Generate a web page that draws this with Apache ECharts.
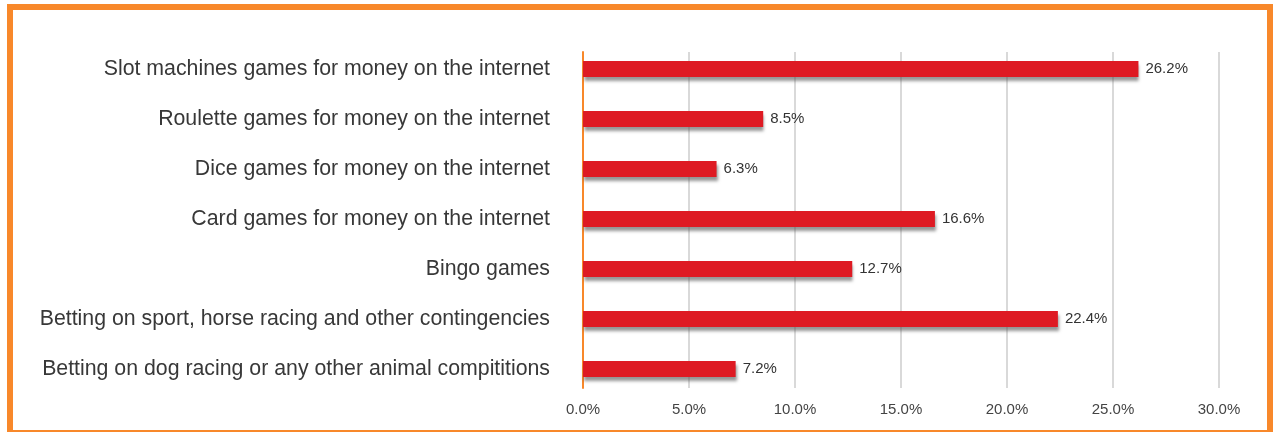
<!DOCTYPE html>
<html>
<head>
<meta charset="utf-8">
<script src="https://cdn.jsdelivr.net/npm/echarts@6/dist/echarts.min.js"></script>
<style>
  html, body { margin: 0; padding: 0; background: #fff; }
  #wrap { position: relative; width: 1274px; height: 432px; overflow: hidden; }
  #frame { position: absolute; left: 7px; top: 4px; width: 1266px; height: 432px;
           box-sizing: border-box; border: 6px solid #F8882A; pointer-events: none; }
  #chart { position: absolute; left: 0; top: 0; width: 1274px; height: 432px; }
</style>
</head>
<body>
<div id="wrap">
  <div id="chart"></div>
  <div id="frame"></div>
</div>
<script>
const categories = [
  "Slot machines games for money on the internet",
  "Roulette games for money on the internet",
  "Dice games for money on the internet",
  "Card games for money on the internet",
  "Bingo games",
  "Betting on sport, horse racing and other contingencies",
  "Betting on dog racing or any other animal compititions"
];
const values = [26.2, 8.5, 6.3, 16.6, 12.7, 22.4, 7.2];

const FONT = "Liberation Sans, Arial, sans-serif";
const pct = (v) => v.toFixed(1) + "%";

const chart = echarts.init(document.getElementById("chart"), null, { renderer: "canvas" });

chart.setOption({
  backgroundColor: "#fff",
  animation: false,
  // grid 0 holds the bars, grid 1 holds the gridlines / axis (slightly shorter, like Excel)
  grid: [
    { left: 583, right: 55, top: 44, height: 350 },
    { left: 583, right: 55, top: 52, height: 336 }
  ],
  xAxis: [
    {
      gridIndex: 0, type: "value", min: 0, max: 30, interval: 5,
      axisLine: { show: false }, axisTick: { show: false },
      splitLine: { show: false }, axisLabel: { show: false }
    },
    {
      gridIndex: 1, type: "value", min: 0, max: 30, interval: 5,
      axisLine: { show: false }, axisTick: { show: false },
      splitLine: { lineStyle: { color: "#d9d9d9", width: 2 } },
      axisLabel: { color: "#444", fontSize: 15, fontFamily: FONT, margin: 14, formatter: pct }
    }
  ],
  yAxis: [
    {
      gridIndex: 0, type: "category", inverse: true, data: categories,
      axisLine: { show: false }, axisTick: { show: false },
      axisLabel: { color: "#383838", fontSize: 21.3, fontFamily: FONT, margin: 33 }
    },
    {
      gridIndex: 1, type: "category", inverse: true, data: categories,
      axisLine: { show: true, lineStyle: { color: "#F8882A", width: 2 } },
      axisTick: { show: false }, axisLabel: { show: false }
    }
  ],
  series: [{
    type: "bar",
    xAxisIndex: 0,
    yAxisIndex: 0,
    data: values,
    barWidth: 16,
    itemStyle: {
      color: "#DE1A23",
      shadowColor: "rgba(80,80,80,0.6)",
      shadowOffsetX: 1,
      shadowOffsetY: 4,
      shadowBlur: 3
    },
    label: {
      show: true,
      position: "right",
      distance: 7,
      color: "#333",
      fontSize: 15,
      fontFamily: FONT,
      formatter: (p) => pct(p.value)
    }
  }]
});
</script>
</body>
</html>
